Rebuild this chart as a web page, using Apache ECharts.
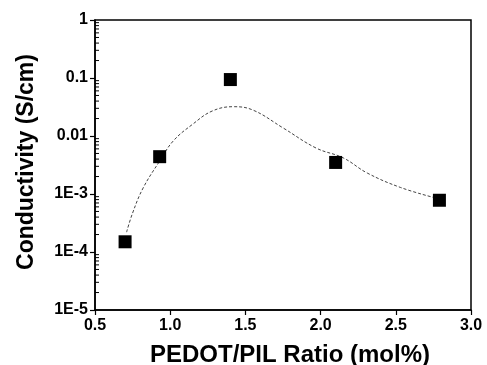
<!DOCTYPE html>
<html>
<head>
<meta charset="utf-8">
<script src="https://cdn.jsdelivr.net/npm/echarts@6/dist/echarts.min.js"></script>
<style>html,body{margin:0;padding:0;background:#fff;}#c{width:487px;height:365px;}</style>
</head>
<body>
<div id="c"></div>
<script>
// Measured data points
const ratioX = [0.70, 0.93, 1.40, 2.10, 2.79];
const conductivity = [1.5e-4, 4.4e-3, 0.094, 3.5e-3, 7.8e-4];
// Fitted guide curve
const curveX = [0.71, 0.75, 0.82, 0.93, 1.02, 1.15, 1.28, 1.42, 1.55, 1.75, 1.97, 2.15, 2.31, 2.53, 2.76];
const curveY = [2.2e-4, 4.7e-4, 1.27e-3, 3.7e-3, 8.2e-3, 0.016, 0.027, 0.032, 0.028, 0.0138, 6.2e-3, 4.2e-3, 2.3e-3, 1.3e-3, 8.6e-4];
// Axis
const xTicks = [0.5, 1.0, 1.5, 2.0, 2.5, 3.0];
const yLabels = {1: '1', 0.1: '0.1', 0.01: '0.01', 0.001: '1E-3', 0.0001: '1E-4', 0.00001: '1E-5'};
const decades = [1e-5, 1e-4, 1e-3, 1e-2, 1e-1];
const minorMultipliers = [2, 3, 4, 5, 6, 7, 8, 9];

const minorTicks = [];
decades.forEach(d => minorMultipliers.forEach(m => minorTicks.push([xTicks[0], d * m])));

const font = 'Liberation Sans, Arial, sans-serif';
const chart = echarts.init(document.getElementById('c'), null, {renderer: 'canvas'});
chart.setOption({
  animation: false,
  backgroundColor: '#fff',
  grid: {left: 95, right: 16, top: 20, bottom: 55, outerBoundsMode: 'none', containLabel: false,
    show: true, borderColor: '#000', borderWidth: 1.5, backgroundColor: 'transparent'},
  xAxis: {
    type: 'value', min: 0.5, max: 3.0, interval: 0.5,
    axisLine: {show: true, lineStyle: {color: '#000', width: 1.5}},
    axisTick: {show: true, inside: false, length: 5, lineStyle: {color: '#000', width: 1.2}},
    splitLine: {show: false},
    axisLabel: {color: '#000', fontFamily: font, fontSize: 16, fontWeight: 'bold', margin: 8, formatter: v => v.toFixed(1)},
    name: 'PEDOT/PIL Ratio (mol%)', nameLocation: 'middle', nameGap: 33,
    nameTextStyle: {color: '#000', fontFamily: font, fontSize: 24, fontWeight: 'bold', padding: [0, 0, 0, 14]}
  },
  yAxis: {
    type: 'log', logBase: 10, min: 1e-5, max: 1,
    axisLine: {show: true, lineStyle: {color: '#000', width: 1.5}},
    axisTick: {show: true, inside: false, length: 5, lineStyle: {color: '#000', width: 1.2}},
    splitLine: {show: false},
    axisLabel: {color: '#000', fontFamily: font, fontSize: 16, fontWeight: 'bold', margin: 7,
      formatter: v => { const k = Object.keys(yLabels).find(x => Math.abs(Math.log10(+x) - Math.log10(v)) < 1e-6); return k !== undefined ? yLabels[k] : ''; }},
    name: 'Conductivity (S/cm)', nameLocation: 'middle', nameGap: 57,
    nameTextStyle: {color: '#000', fontFamily: font, fontSize: 23, fontWeight: 'bold', padding: [0, 0, 0, 6]}
  },
  series: [
    {
      type: 'custom', data: minorTicks, silent: true, z: 5,
      renderItem: (params, api) => {
        const p = api.coord([api.value(0), api.value(1)]);
        return {type: 'line', shape: {x1: p[0], y1: p[1], x2: p[0] + 4, y2: p[1]}, style: {stroke: '#000', lineWidth: 1}};
      }
    },
    {
      type: 'line', data: curveX.map((x, i) => [x, curveY[i]]), smooth: 0.4, showSymbol: false, symbol: 'none',
      lineStyle: {color: '#444', width: 1, type: [3, 2]}, z: 2
    },
    {
      type: 'scatter', data: ratioX.map((x, i) => [x, conductivity[i]]), symbol: 'rect', symbolSize: 13,
      itemStyle: {color: '#000', opacity: 1}, z: 3
    }
  ]
});
</script>
</body>
</html>
